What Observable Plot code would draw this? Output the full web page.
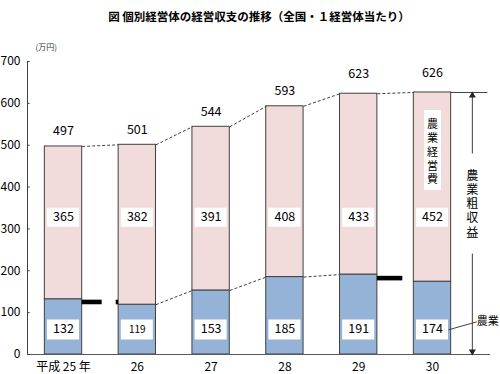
<!DOCTYPE html>
<html><head><meta charset="utf-8">
<script src="https://cdn.jsdelivr.net/npm/d3@7"></script>
<script src="https://cdn.jsdelivr.net/npm/@observablehq/plot@0.6"></script>
<style>body{margin:0;background:#fff} #chart{width:500px;height:374px}</style>
</head><body><div id="chart"></div>
<script>
const title = "図 個別経営体の経営収支の推移（全国・１経営体当たり）";
const years = ["平成 25 年", "26", "27", "28", "29", "30"];
const income = [132, 119, 153, 185, 191, 174];     // 農業所得
const expense = [365, 382, 391, 408, 433, 452];    // 農業経営費
const totals = [497, 501, 544, 593, 623, 626];     // 農業粗収益
const yTicks = [0, 100, 200, 300, 400, 500, 600, 700];
const grossLabel = "農業粗収益";
const costLabel = "農業経営費";

const PINK = "#f2dcdb", BLUE = "#95b3d7", EDGE = "#404040";
const FONT = "'Noto Sans CJK JP', 'Noto Sans', sans-serif";
const hw = 0.253;           // half bar width (in category units)
const bw = 0.217;           // half label-box width
const last = years.length - 1;

const rows = years.map((year, i) => ({i, year, income: income[i], expense: expense[i], total: totals[i]}));
const topLinks = rows.slice(0, -1).map(d => ({x1: d.i + hw, y1: d.total, x2: d.i + 1 - hw, y2: totals[d.i + 1]}));
const incLinks = [1, 2, 3].map(i => ({x1: i + hw, y1: income[i], x2: i + 1 - hw, y2: income[i + 1]}));
const breaks = [
  {x1: 0 + hw, x2: 0.524, y: (income[0] + income[1]) / 2},
  {x1: 0.714, x2: 1 - hw, y: (income[0] + income[1]) / 2},
  {x1: 4 + hw, x2: 4.598, y: (income[4] + income[5]) / 2}
];
const xDomain = [-0.488, 5.786];
const arrowX = 5.54;
const pxPerUnit = 293 / 700;

const chart = Plot.plot({
  width: 500, height: 374,
  marginLeft: 27, marginRight: 10, marginTop: 61, marginBottom: 20,
  style: {fontFamily: FONT, fontSize: "12px", color: "#000", background: "#fff"},
  x: {domain: xDomain, axis: null},
  y: {domain: [0, 700], axis: null},
  marks: [
    // bars
    Plot.rect(rows, {x1: d => d.i - hw, x2: d => d.i + hw, y1: 0, y2: "income", fill: BLUE, stroke: EDGE, strokeWidth: 1}),
    Plot.rect(rows, {x1: d => d.i - hw, x2: d => d.i + hw, y1: "income", y2: "total", fill: PINK, stroke: EDGE, strokeWidth: 1}),
    // connectors
    Plot.link(topLinks, {x1: "x1", y1: "y1", x2: "x2", y2: "y2", stroke: EDGE, strokeWidth: 1, strokeDasharray: "3,2"}),
    Plot.link(incLinks, {x1: "x1", y1: "y1", x2: "x2", y2: "y2", stroke: EDGE, strokeWidth: 1, strokeDasharray: "3,2"}),
    Plot.ruleY(breaks, {x1: "x1", x2: "x2", y: "y", stroke: "#000", strokeWidth: 4.6}),
    // axes lines
    Plot.ruleY([0], {stroke: "#595959", strokeWidth: 1.2}),
    Plot.ruleX([xDomain[0]], {y1: 0, y2: 700, stroke: "#404040"}),
    Plot.link(yTicks, {x1: xDomain[0], x2: xDomain[0] + 0.03, y1: d => d, y2: d => d, stroke: "#404040"}),
    Plot.text(yTicks, {x: xDomain[0], y: d => d, text: d => String(d), textAnchor: "end", dx: -7, fontSize: 12}),
    Plot.text(rows, {x: "i", y: 0, text: "year", dy: 13, fontSize: 12}),
    Plot.text(["(万円)"], {frameAnchor: "top-left", dx: 8, dy: -17, fontSize: 8, fill: "#333"}),
    // label boxes
    Plot.ruleY(rows, {x1: d => d.i - bw, x2: d => d.i + bw, y: 328, stroke: "#fff", strokeWidth: 19}),
    Plot.ruleY(rows, {x1: d => d.i - bw, x2: d => d.i + bw, y: 60, stroke: "#fff", strokeWidth: 20}),
    Plot.text(rows, {x: "i", y: 328, text: d => String(d.expense), fontSize: 12.5}),
    Plot.text(rows, {x: "i", y: 60, text: d => String(d.income), fontSize: d => d.income === 119 ? 10 : 12.5}),
    Plot.text(rows, {x: "i", y: d => d.total + (d.total > 600 ? 19.5 : 15) / pxPerUnit, text: d => String(d.total), fontSize: 12.5}),
    // right annotation
    Plot.ruleY([totals[last]], {x1: last + hw, x2: 5.75, stroke: "#404040"}),
    Plot.ruleX([[479, totals[last]], [0, 240]], {x: arrowX, y1: d => d[0], y2: d => d[1], stroke: "#404040"}),
    Plot.dot([totals[last]], {x: arrowX, y: d => d, symbol: "triangle", r: 2.6, fill: "#222", dy: 3}),
    Plot.dot([0], {x: arrowX, y: d => d, symbol: "triangle", r: 2.6, fill: "#222", rotate: 180, dy: -3}),
    Plot.text([grossLabel], {x: arrowX, y: 367, text: d => d, fontSize: 12}),
    Plot.ruleX([last], {x: d => d, y1: 392, y2: 583, stroke: "#fff", strokeWidth: 17}),
    Plot.text([costLabel], {x: last, y: 490, text: d => d, fontSize: 11}),
    Plot.link([0], {x1: last + bw, y1: 59, x2: 5.6, y2: 78, stroke: "#404040"}),
    Plot.text(["農業"], {x: 5.6, y: 79, text: d => d, textAnchor: "start", fontSize: 11}),
    // title
    Plot.text([title], {frameAnchor: "top", dx: 0, dy: -49, fontSize: 11.5, fontWeight: "bold"})
  ]
});
// set vertical writing mode for the two vertical labels
d3.select(chart).selectAll("text").each(function () {
  const t = this.textContent;
  if (t === grossLabel || t === costLabel) {
    const sp = t === grossLabel ? 2.3 : 2.9;
    d3.select(this)
      .attr("dy", null)
      .style("writing-mode", "vertical-rl")
      .style("text-orientation", "upright")
      .style("letter-spacing", sp + "px")
      .attr("text-anchor", "middle");
  }
});
document.getElementById("chart").appendChild(chart);
</script></body></html>
